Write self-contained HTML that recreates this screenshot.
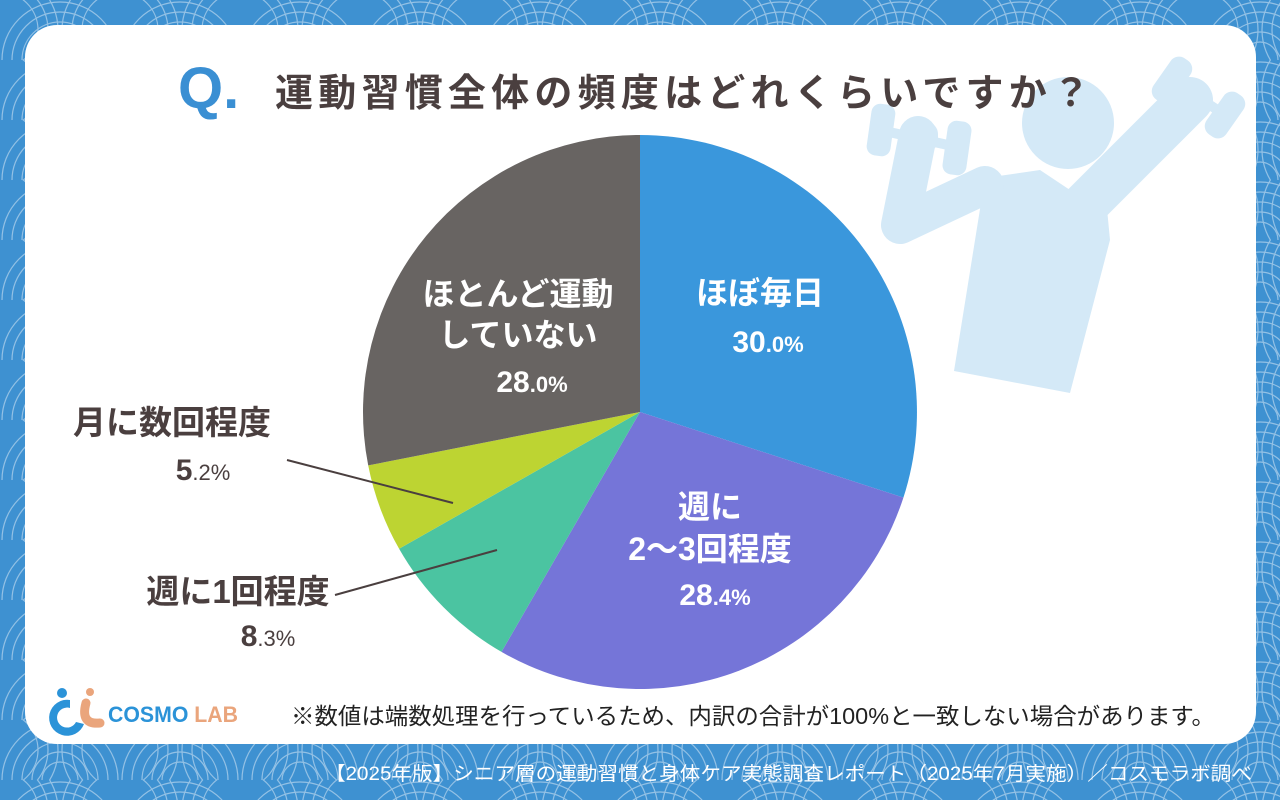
<!DOCTYPE html>
<html><head><meta charset="utf-8"><style>
body{margin:0;width:1280px;height:800px;overflow:hidden;font-family:"Liberation Sans","Noto Sans CJK JP",sans-serif}
</style></head><body>
<svg width="1280" height="800" xmlns="http://www.w3.org/2000/svg" style="display:block">
<defs>
<pattern id="sg" width="120" height="60" patternUnits="userSpaceOnUse">
<rect width="120" height="60" fill="#3e91d1"/>
<g fill="none" stroke="#a9cdea" stroke-width="1.2" opacity="0.8">
<circle cx="60" cy="60" r="58"/><circle cx="60" cy="60" r="48"/><circle cx="60" cy="60" r="38"/><circle cx="60" cy="60" r="28"/><circle cx="60" cy="60" r="18"/>
<circle cx="0" cy="30" r="58"/><circle cx="0" cy="30" r="48"/><circle cx="0" cy="30" r="38"/>
<circle cx="120" cy="30" r="58"/><circle cx="120" cy="30" r="48"/><circle cx="120" cy="30" r="38"/>
</g>
</pattern>
</defs>
<rect width="1280" height="800" fill="url(#sg)"/>
<rect x="25" y="25" width="1231" height="719" rx="32" fill="#fff"/>
<!-- figure -->
<g fill="#d4e9f7" stroke="none">
<circle cx="1068" cy="123" r="46"/>
<polygon points="985,178 1040,170 1070,190 1105,188 1110,240 1070,393 954,371"/>
<polyline points="918,135 900,225 985,185" fill="none" stroke="#d4e9f7" stroke-width="38" stroke-linejoin="round" stroke-linecap="round"/>
<line x1="1085" y1="205" x2="1190" y2="100" stroke="#d4e9f7" stroke-width="46" stroke-linecap="round"/>
<line x1="880" y1="130" x2="957" y2="147" stroke="#d4e9f7" stroke-width="10"/>
<rect x="906" y="122" width="32" height="30" rx="12"/>
<rect x="869" y="104" width="24" height="52" rx="9" transform="rotate(8 881 130)"/>
<rect x="945" y="121" width="24" height="54" rx="9" transform="rotate(8 957 148)"/>
<line x1="1172" y1="80" x2="1225" y2="115" stroke="#d4e9f7" stroke-width="10"/>
<rect x="1160" y="55" width="24" height="50" rx="10" transform="rotate(35 1172 80)"/>
<rect x="1213" y="90" width="24" height="50" rx="10" transform="rotate(35 1225 115)"/>
</g>
<!-- pie -->
<g transform="translate(640,412)">
<path d="M0,0 L0,-277 A277,277 0 0,1 263.4,85.6 Z" fill="#3a97dc"/>
<path d="M0,0 L263.4,85.6 A277,277 0 0,1 -138.5,239.9 Z" fill="#7575d8"/>
<path d="M0,0 L-138.5,239.9 A277,277 0 0,1 -240.9,136.8 Z" fill="#4bc4a1"/>
<path d="M0,0 L-240.9,136.8 A277,277 0 0,1 -271.8,53.4 Z" fill="#bdd432"/>
<path d="M0,0 L-271.8,53.4 A277,277 0 0,1 0,-277 Z" fill="#686462"/>
</g>
<line x1="287" y1="460" x2="453" y2="503" stroke="#4a3f3f" stroke-width="2"/>
<line x1="335" y1="595" x2="497" y2="550" stroke="#4a3f3f" stroke-width="2"/>
<g font-family="'Liberation Sans','Noto Sans CJK JP',sans-serif" font-weight="bold">
<text x="178" y="108" font-size="58" fill="#3a8fd3">Q.</text>
<text x="275" y="106" font-size="38" fill="#4a3f3f" textLength="815" lengthAdjust="spacing">運動習慣全体の頻度はどれくらいですか？</text>
<g fill="#fff" text-anchor="middle">
<text x="760" y="304" font-size="32">ほぼ毎日</text>
<text x="768" y="352" font-size="30">30<tspan font-size="22">.0%</tspan></text>
<text x="710" y="518" font-size="32">週に</text>
<text x="710" y="560" font-size="32">2〜3回程度</text>
<text x="715" y="605" font-size="30">28<tspan font-size="22">.4%</tspan></text>
<text x="518" y="305" font-size="32">ほとんど運動</text>
<text x="518" y="346" font-size="32">していない</text>
<text x="532" y="392" font-size="30">28<tspan font-size="22">.0%</tspan></text>
</g>
<g fill="#4a3f3f" text-anchor="middle" font-weight="bold">
<text x="172" y="434" font-size="33">月に数回程度</text>
<text x="203" y="480" font-size="30">5<tspan font-size="22" font-weight="normal">.2%</tspan></text>
<text x="238" y="603" font-size="33">週に1回程度</text>
<text x="268" y="646" font-size="30">8<tspan font-size="22" font-weight="normal">.3%</tspan></text>
</g>
</g>
<text x="291" y="724" font-size="23" fill="#222" textLength="924" lengthAdjust="spacingAndGlyphs" font-family="'Liberation Sans','Noto Sans CJK JP',sans-serif">※数値は端数処理を行っているため、内訳の合計が100%と一致しない場合があります。</text>
<!-- logo -->
<circle cx="62" cy="693" r="5" fill="#2b93d8"/>
<circle cx="90" cy="692" r="4" fill="#eaa57c"/>
<path d="M70,700 a18,18 0 1,0 14,24 l-8,-2 a10,10 0 1,1 -6,-14 z" fill="#2b93d8"/>
<path d="M86,703 q-6,22 14,20" fill="none" stroke="#eaa57c" stroke-width="9" stroke-linecap="round"/>
<text x="108" y="722" font-size="22" font-weight="bold" fill="#2b93d8" font-family="'Liberation Sans',sans-serif" textLength="130" lengthAdjust="spacingAndGlyphs">COSMO <tspan fill="#eaa57c">LAB</tspan></text>
<text x="325" y="780" font-size="19" fill="#fff" textLength="927" lengthAdjust="spacingAndGlyphs" font-family="'Liberation Sans','Noto Sans CJK JP',sans-serif">【2025年版】シニア層の運動習慣と身体ケア実態調査レポート（2025年7月実施）／コスモラボ調べ</text>
</svg>
</body></html>
